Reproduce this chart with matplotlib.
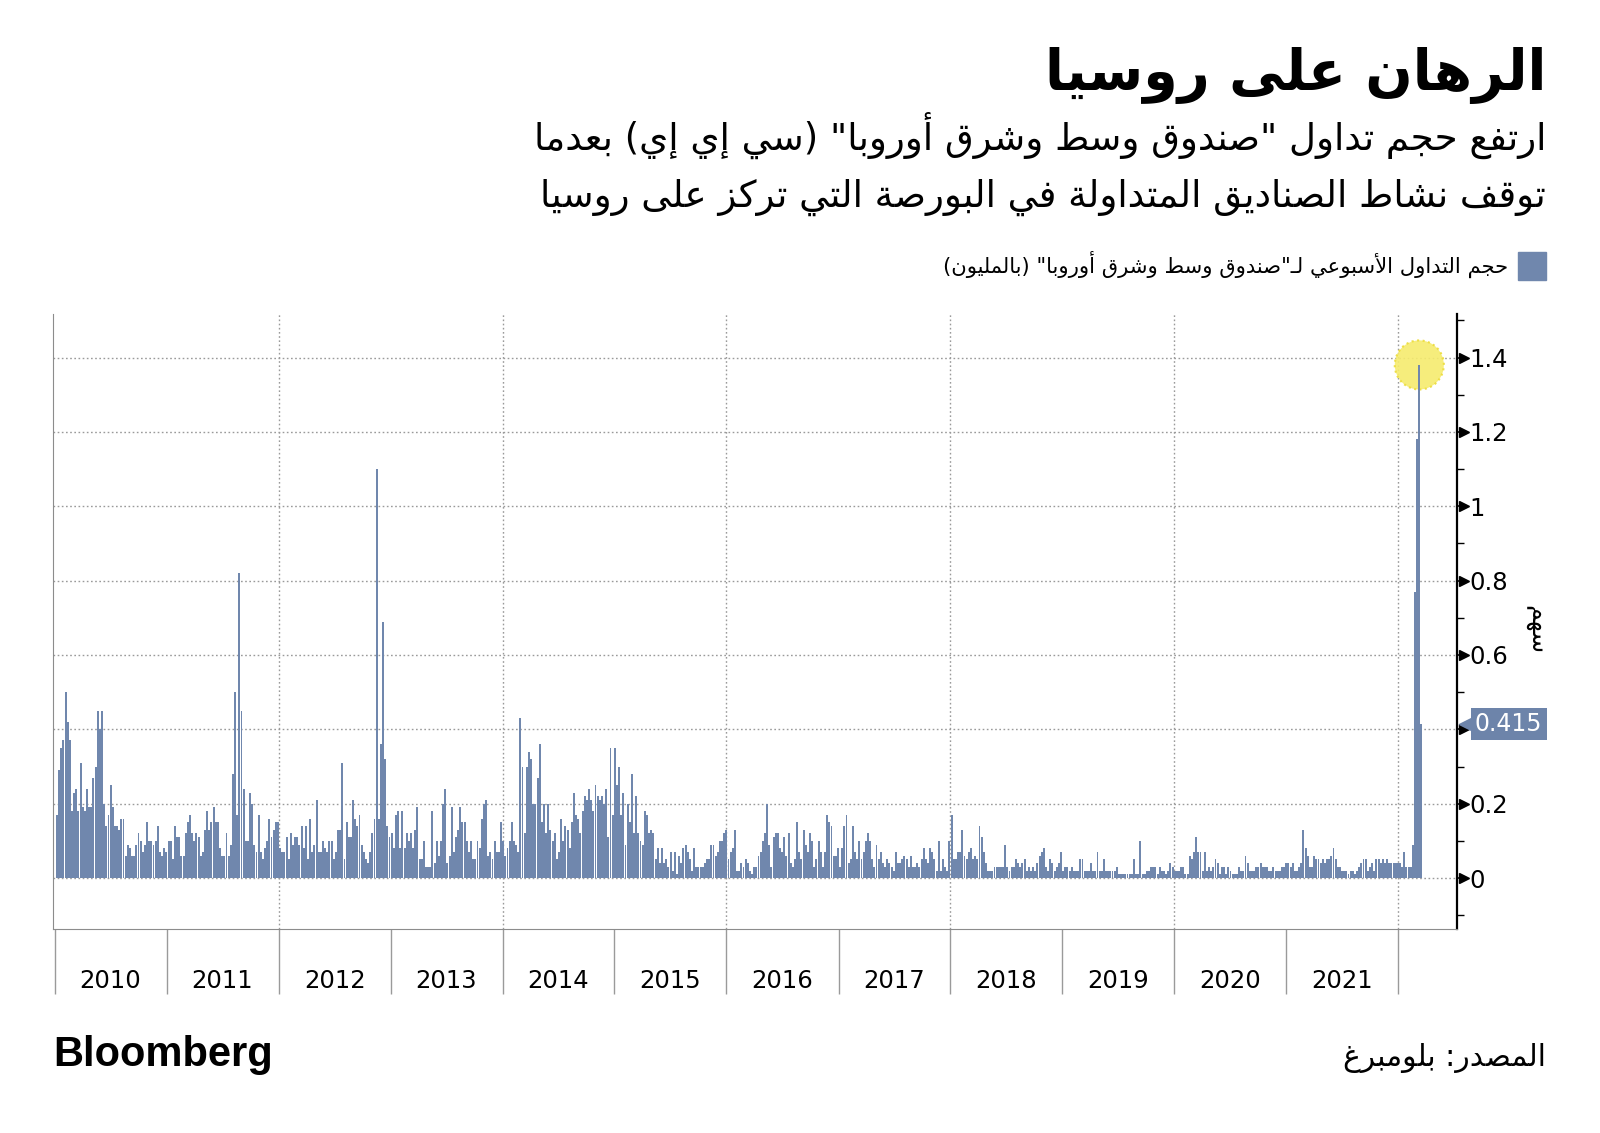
import numpy as np
import pandas as pd
import matplotlib
matplotlib.use('Agg')
import matplotlib.pyplot as plt
import matplotlib.transforms as mtransforms
from matplotlib.patches import Rectangle

# Weekly traded volume of the CEE fund, millions of shares
vol_2010 = [0.17, 0.29, 0.35, 0.37, 0.50, 0.42, 0.37, 0.18, 0.23, 0.24,
            0.18, 0.31, 0.19, 0.18, 0.24, 0.19, 0.19, 0.27, 0.30, 0.45,
            0.40, 0.45, 0.20, 0.14, 0.17, 0.25, 0.19, 0.14, 0.14, 0.13,
            0.16, 0.16, 0.06, 0.09, 0.08, 0.06, 0.06, 0.09, 0.12, 0.10,
            0.07, 0.09, 0.15, 0.10, 0.10, 0.09, 0.10, 0.14, 0.07, 0.06,
            0.08, 0.07]
vol_2011 = [0.10, 0.10, 0.05, 0.14, 0.11, 0.11, 0.06, 0.06, 0.12, 0.15,
            0.17, 0.12, 0.10, 0.12, 0.11, 0.06, 0.07, 0.13, 0.18, 0.13,
            0.15, 0.19, 0.15, 0.15, 0.08, 0.06, 0.06, 0.12, 0.06, 0.09,
            0.28, 0.50, 0.17, 0.82, 0.45, 0.24, 0.10, 0.10, 0.23, 0.20,
            0.09, 0.07, 0.17, 0.07, 0.05, 0.08, 0.10, 0.16, 0.11, 0.13,
            0.15, 0.15]
vol_2012 = [0.08, 0.07, 0.07, 0.11, 0.05, 0.12, 0.09, 0.11, 0.11, 0.09,
            0.14, 0.08, 0.14, 0.05, 0.16, 0.07, 0.09, 0.21, 0.07, 0.07,
            0.10, 0.08, 0.07, 0.10, 0.10, 0.05, 0.07, 0.13, 0.13, 0.31,
            0.05, 0.15, 0.11, 0.11, 0.21, 0.16, 0.14, 0.17, 0.09, 0.07,
            0.05, 0.04, 0.07, 0.12, 0.16, 1.10, 0.16, 0.36, 0.69, 0.32,
            0.14, 0.11]
vol_2013 = [0.12, 0.08, 0.17, 0.18, 0.08, 0.18, 0.08, 0.12, 0.10, 0.12,
            0.08, 0.13, 0.19, 0.05, 0.05, 0.10, 0.03, 0.03, 0.03, 0.18,
            0.04, 0.10, 0.06, 0.10, 0.20, 0.24, 0.04, 0.06, 0.19, 0.07,
            0.11, 0.13, 0.19, 0.15, 0.15, 0.10, 0.07, 0.10, 0.05, 0.05,
            0.10, 0.08, 0.16, 0.20, 0.21, 0.06, 0.07, 0.05, 0.10, 0.07,
            0.07, 0.15]
vol_2014 = [0.10, 0.06, 0.08, 0.10, 0.15, 0.10, 0.09, 0.07, 0.43, 0.30,
            0.12, 0.30, 0.34, 0.32, 0.20, 0.20, 0.27, 0.36, 0.15, 0.20,
            0.12, 0.20, 0.13, 0.10, 0.12, 0.05, 0.07, 0.16, 0.10, 0.14,
            0.13, 0.08, 0.15, 0.23, 0.17, 0.16, 0.12, 0.18, 0.22, 0.21,
            0.24, 0.21, 0.18, 0.25, 0.22, 0.21, 0.22, 0.20, 0.24, 0.11,
            0.35, 0.17]
vol_2015 = [0.35, 0.25, 0.30, 0.17, 0.23, 0.09, 0.20, 0.15, 0.28, 0.12,
            0.22, 0.12, 0.10, 0.09, 0.18, 0.17, 0.12, 0.13, 0.12, 0.05,
            0.08, 0.04, 0.08, 0.04, 0.05, 0.03, 0.07, 0.02, 0.07, 0.01,
            0.06, 0.04, 0.08, 0.09, 0.07, 0.05, 0.02, 0.08, 0.03, 0.03,
            0.03, 0.03, 0.04, 0.05, 0.05, 0.09, 0.09, 0.06, 0.07, 0.10,
            0.10, 0.12]
vol_2016 = [0.13, 0.05, 0.07, 0.08, 0.13, 0.02, 0.02, 0.04, 0.03, 0.05,
            0.04, 0.02, 0.01, 0.03, 0.03, 0.06, 0.07, 0.10, 0.12, 0.20,
            0.09, 0.03, 0.11, 0.12, 0.12, 0.08, 0.07, 0.11, 0.06, 0.12,
            0.04, 0.03, 0.05, 0.15, 0.07, 0.05, 0.13, 0.09, 0.07, 0.12,
            0.10, 0.03, 0.05, 0.10, 0.07, 0.03, 0.07, 0.17, 0.15, 0.14,
            0.06, 0.06]
vol_2017 = [0.08, 0.03, 0.08, 0.14, 0.17, 0.04, 0.05, 0.14, 0.07, 0.05,
            0.10, 0.05, 0.07, 0.10, 0.12, 0.10, 0.05, 0.03, 0.09, 0.05,
            0.07, 0.04, 0.03, 0.05, 0.04, 0.03, 0.02, 0.07, 0.04, 0.04,
            0.05, 0.06, 0.05, 0.03, 0.06, 0.03, 0.03, 0.04, 0.03, 0.05,
            0.08, 0.05, 0.04, 0.08, 0.07, 0.05, 0.02, 0.10, 0.02, 0.05,
            0.03, 0.02]
vol_2018 = [0.10, 0.17, 0.05, 0.05, 0.07, 0.07, 0.13, 0.06, 0.05, 0.07,
            0.08, 0.05, 0.06, 0.05, 0.14, 0.11, 0.07, 0.04, 0.02, 0.02,
            0.02, 0.03, 0.03, 0.03, 0.03, 0.03, 0.09, 0.03, 0.02, 0.03,
            0.03, 0.05, 0.04, 0.03, 0.04, 0.05, 0.02, 0.03, 0.02, 0.03,
            0.02, 0.04, 0.06, 0.07, 0.08, 0.03, 0.02, 0.05, 0.04, 0.02,
            0.03, 0.04]
vol_2019 = [0.07, 0.02, 0.03, 0.03, 0.02, 0.03, 0.02, 0.02, 0.02, 0.05,
            0.05, 0.02, 0.02, 0.02, 0.04, 0.02, 0.02, 0.07, 0.02, 0.02,
            0.05, 0.02, 0.02, 0.02, 0.02, 0.02, 0.03, 0.01, 0.01, 0.01,
            0.01, 0.01, 0.01, 0.01, 0.05, 0.01, 0.01, 0.10, 0.01, 0.01,
            0.02, 0.02, 0.03, 0.03, 0.03, 0.01, 0.03, 0.02, 0.02, 0.01,
            0.02, 0.04]
vol_2020 = [0.03, 0.02, 0.02, 0.02, 0.03, 0.03, 0.01, 0.01, 0.06, 0.05,
            0.07, 0.11, 0.07, 0.07, 0.02, 0.07, 0.02, 0.03, 0.02, 0.03,
            0.05, 0.04, 0.01, 0.03, 0.03, 0.01, 0.03, 0.02, 0.01, 0.01,
            0.01, 0.03, 0.02, 0.02, 0.06, 0.04, 0.02, 0.02, 0.02, 0.03,
            0.03, 0.04, 0.03, 0.03, 0.03, 0.02, 0.02, 0.03, 0.02, 0.02,
            0.02, 0.03]
vol_2021 = [0.03, 0.04, 0.04, 0.03, 0.04, 0.02, 0.02, 0.03, 0.04, 0.13,
            0.08, 0.06, 0.03, 0.03, 0.06, 0.05, 0.05, 0.04, 0.05, 0.04,
            0.05, 0.05, 0.06, 0.08, 0.05, 0.03, 0.03, 0.02, 0.02, 0.02,
            0.01, 0.02, 0.02, 0.01, 0.02, 0.03, 0.04, 0.05, 0.05, 0.02,
            0.03, 0.04, 0.02, 0.05, 0.05, 0.04, 0.05, 0.04, 0.05, 0.04,
            0.04, 0.04]
vol_2022 = [0.04, 0.04, 0.04, 0.03, 0.07, 0.03, 0.03, 0.03, 0.09, 0.77,
            1.18, 1.38, 0.415]

year_labels = [str(y) for y in range(2010, 2022)]
y_ticks = [0, 0.2, 0.4, 0.6, 0.8, 1.0, 1.2, 1.4]
# the 0.4 label sits under the last-value callout, so it is left blank
y_tick_labels = ['0', '0.2', '', '0.6', '0.8', '1', '1.2', '1.4']
last_value_label = '0.415'

title = 'الرهان على روسيا'
subtitle_1 = 'ارتفع حجم تداول "صندوق وسط وشرق أوروبا" (سي إي إي) بعدما'
subtitle_2 = 'توقف نشاط الصناديق المتداولة في البورصة التي تركز على روسيا'
legend_text = 'حجم التداول الأسبوعي لـ"صندوق وسط وشرق أوروبا" (بالمليون)'
unit_text = 'سهم'
source_text = 'المصدر: بلومبرغ'

BAR = '#7087ad'
CALLOUT = '#6d84aa'
GRID = '#9a9a9a'

# matplotlib has no Arabic shaping, so map letters to their presentation forms
# (isolated, final, initial, medial) and reverse into visual order ourselves.
AR_FORMS = {
    '\u0621': (0xFE80, 1), '\u0622': (0xFE81, 2), '\u0623': (0xFE83, 2),
    '\u0624': (0xFE85, 2), '\u0625': (0xFE87, 2), '\u0626': (0xFE89, 4),
    '\u0627': (0xFE8D, 2), '\u0628': (0xFE8F, 4), '\u0629': (0xFE93, 2),
    '\u062A': (0xFE95, 4), '\u062B': (0xFE99, 4), '\u062C': (0xFE9D, 4),
    '\u062D': (0xFEA1, 4), '\u062E': (0xFEA5, 4), '\u062F': (0xFEA9, 2),
    '\u0630': (0xFEAB, 2), '\u0631': (0xFEAD, 2), '\u0632': (0xFEAF, 2),
    '\u0633': (0xFEB1, 4), '\u0634': (0xFEB5, 4), '\u0635': (0xFEB9, 4),
    '\u0636': (0xFEBD, 4), '\u0637': (0xFEC1, 4), '\u0638': (0xFEC5, 4),
    '\u0639': (0xFEC9, 4), '\u063A': (0xFECD, 4), '\u0641': (0xFED1, 4),
    '\u0642': (0xFED5, 4), '\u0643': (0xFED9, 4), '\u0644': (0xFEDD, 4),
    '\u0645': (0xFEE1, 4), '\u0646': (0xFEE5, 4), '\u0647': (0xFEE9, 4),
    '\u0648': (0xFEED, 2), '\u0649': (0xFEEF, 2), '\u064A': (0xFEF1, 4),
}
LAM_ALEF = {'\u0622': 0xFEF5, '\u0623': 0xFEF7, '\u0625': 0xFEF9, '\u0627': 0xFEFB}
TATWEEL = '\u0640'


def joins_next(tok):
    kind, c = tok
    if kind == 'LA':
        return False
    if c == TATWEEL:
        return True
    return c in AR_FORMS and AR_FORMS[c][1] == 4


def joins_prev(tok):
    kind, c = tok
    return kind == 'LA' or c == TATWEEL or (c in AR_FORMS and AR_FORMS[c][1] > 1)


def ar(text):
    tokens = []
    i = 0
    while i < len(text):
        if text[i] == '\u0644' and i + 1 < len(text) and text[i + 1] in LAM_ALEF:
            tokens.append(('LA', text[i + 1]))
            i += 2
        else:
            tokens.append(('C', text[i]))
            i += 1

    out = []
    for k, tok in enumerate(tokens):
        kind, c = tok
        prev_j = k > 0 and joins_next(tokens[k - 1]) and joins_prev(tok)
        next_j = k + 1 < len(tokens) and joins_next(tok) and joins_prev(tokens[k + 1])
        if kind == 'LA':
            out.append(chr(LAM_ALEF[c] + (1 if prev_j else 0)))
        elif c in AR_FORMS:
            base, n = AR_FORMS[c]
            if n == 4:
                form = 3 if (prev_j and next_j) else 1 if prev_j else 2 if next_j else 0
            elif n == 2:
                form = 1 if prev_j else 0
            else:
                form = 0
            out.append(chr(base + form))
        else:
            out.append(c)
    visual = ''.join(out)[::-1]
    return visual.translate(str.maketrans('()', ')('))


plt.rcParams['font.family'] = ['DejaVu Sans']

volume = np.array(vol_2010 + vol_2011 + vol_2012 + vol_2013 + vol_2014 + vol_2015
                  + vol_2016 + vol_2017 + vol_2018 + vol_2019 + vol_2020
                  + vol_2021 + vol_2022)
weeks = pd.date_range('2010-01-08', periods=len(volume), freq='W-FRI')

W, H = 1600, 1133
fig = plt.figure(figsize=(W / 100, H / 100), dpi=100)
fig.patch.set_facecolor('white')

# axes box in pixel terms of the reference
left, right, top, bottom = 53, 1457, 314, 929
ax = fig.add_axes([left / W, 1 - bottom / H, (right - left) / W, (bottom - top) / H])

ax.bar(weeks, volume, width=6.3, color=BAR, linewidth=0, zorder=3)

# highlight on the peak week
peak = np.argmax(volume)
ax.scatter([weeks[peak]], [volume[peak]], s=1250, color='#f6ec6e', alpha=0.9,
           edgecolors='#ecdc3c', linewidths=1.5, linestyle=':', zorder=2)

ax.set_ylim(-0.137, 1.517)
ax.set_xlim(pd.Timestamp('2009-12-26'), pd.Timestamp('2022-07-12'))

# dotted grid
for v in y_ticks:
    ax.axhline(v, color=GRID, lw=1, ls=(0, (1.2, 1.8)), zorder=1)
for yr in range(2012, 2023, 2):
    ax.axvline(pd.Timestamp(f'{yr}-01-01'), color=GRID, lw=1, ls=(0, (1.2, 1.8)), zorder=1)

# right-hand value axis, ticks drawn as small arrow heads
ax.yaxis.tick_right()
ax.set_yticks(y_ticks)
ax.set_yticklabels(y_tick_labels)
ax.set_yticks(np.arange(-0.1, 1.55, 0.2), minor=True)
ax.tick_params(axis='y', which='major', length=4, width=1.2, color='black',
               pad=5, labelsize=17.5, labelcolor='black')
ax.tick_params(axis='y', which='minor', length=5, width=1, color='black')
tick_tr = mtransforms.blended_transform_factory(ax.transAxes, ax.transData) + \
    mtransforms.ScaledTranslation(5 / 72, 0, fig.dpi_scale_trans)
ax.plot([1] * len(y_ticks), y_ticks, ls='none', marker='>', ms=7, color='black',
        transform=tick_tr, clip_on=False, zorder=5)

# year separators below the axis, labels centred in each year
ax.set_xticks([pd.Timestamp(f'{y}-01-01') for y in range(2010, 2023)])
ax.tick_params(axis='x', length=47, width=1, color=GRID, labelbottom=False)
xtr = ax.get_xaxis_transform()
for lab in year_labels:
    ax.text(pd.Timestamp(f'{lab}-07-02'), -52 / (bottom - top), lab, transform=xtr,
            ha='center', va='center', fontsize=17.5, color='black')

ax.spines['top'].set_visible(False)
ax.spines['left'].set_color('#8c8c8c')
ax.spines['bottom'].set_color('#8c8c8c')
ax.spines['right'].set_color('black')
ax.spines['right'].set_linewidth(1.6)

# last value callout: pointer triangle plus label box
base_tr = mtransforms.blended_transform_factory(ax.transAxes, ax.transData)
ptr_tr = base_tr + mtransforms.ScaledTranslation(8 / 72, 0, fig.dpi_scale_trans)
ax.plot([1], [volume[-1]], marker='<', ms=13, color=CALLOUT, ls='none',
        transform=ptr_tr, clip_on=False, zorder=6)
call_tr = base_tr + mtransforms.ScaledTranslation(12.8 / 72, 0, fig.dpi_scale_trans)
ax.text(1, volume[-1], last_value_label, transform=call_tr, ha='left', va='center',
        fontsize=17, color='white', clip_on=False, zorder=7,
        bbox=dict(boxstyle='square,pad=0.18', fc=CALLOUT, ec='none'))

# headline texts
fig.text(1546 / W, 1 - 90 / H, ar(title), ha='right', va='baseline',
         fontsize=40, fontweight='bold', color='black')
fig.text(1546 / W, 1 - 150 / H, ar(subtitle_1), ha='right', va='baseline',
         fontsize=26.7, color='black')
fig.text(1546 / W, 1 - 207 / H, ar(subtitle_2), ha='right', va='baseline',
         fontsize=26.7, color='black')

# legend
fig.add_artist(Rectangle((1518 / W, 1 - 280 / H), 28 / W, 28 / H,
                         transform=fig.transFigure, color=BAR))
fig.text(1508 / W, 1 - 273 / H, ar(legend_text), ha='right', va='baseline',
         fontsize=15.2, color='black')

fig.text(1536 / W, 1 - 630 / H, ar(unit_text), rotation=-90, ha='center', va='center',
         fontsize=18, color='black')

# footer
fig.text(53 / W, 1 - 1066 / H, 'Bloomberg', ha='left', va='baseline', fontsize=30,
         fontweight='bold', family='Liberation Sans', color='black')
fig.text(1546 / W, 1 - 1066 / H, ar(source_text), ha='right', va='baseline',
         fontsize=21.4, color='black')

fig.savefig('out.png', dpi=100, facecolor='white')
